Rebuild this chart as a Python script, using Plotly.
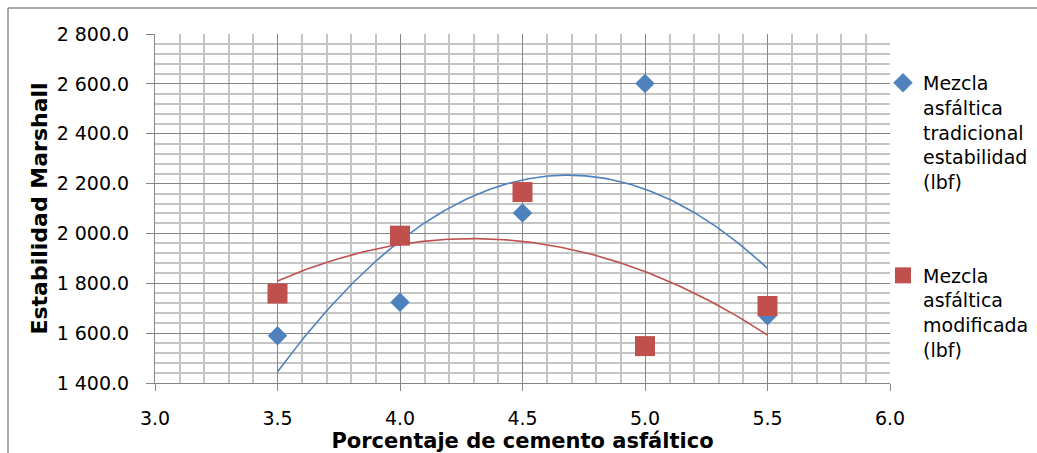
import numpy as np
import plotly.graph_objects as go

# Asphalt content (%) and Marshall stability (lbf) per mix
asphalt_pct = [3.5, 4.0, 4.5, 5.0, 5.5]
stab_traditional = [1590, 1724, 2082, 2601, 1670]
stab_modified = [1759, 1991, 2166, 1548, 1709]

name_traditional = "Mezcla<br>asfáltica<br>tradicional<br>estabilidad<br>(lbf)"
name_modified = "Mezcla<br>asfáltica<br>modificada<br>(lbf)"

BLUE = "#4F81BD"
RED = "#C0504D"
FONT = "DejaVu Sans, Verdana, sans-serif"

# Second-order polynomial trendlines over the measured range
xs = np.linspace(min(asphalt_pct), max(asphalt_pct), 200)
fit_trad = np.poly1d(np.polyfit(asphalt_pct, stab_traditional, 2))(xs)
fit_mod = np.poly1d(np.polyfit(asphalt_pct, stab_modified, 2))(xs)

fig = go.Figure()
fig.add_trace(go.Scatter(x=xs, y=fit_trad, mode="lines", line=dict(color=BLUE, width=1.6),
                         showlegend=False, hoverinfo="skip"))
fig.add_trace(go.Scatter(x=xs, y=fit_mod, mode="lines", line=dict(color=RED, width=1.6),
                         showlegend=False, hoverinfo="skip"))
fig.add_trace(go.Scatter(x=asphalt_pct, y=stab_traditional, mode="markers", name=name_traditional,
                         legendgroup="a",
                         marker=dict(symbol="diamond", size=15, color=BLUE)))
fig.add_trace(go.Scatter(x=asphalt_pct, y=stab_modified, mode="markers", name=name_modified,
                         legendgroup="b",
                         marker=dict(symbol="square", size=20, color=RED)))

W, H = 1037, 453
L, R, T, B = 155, 147, 34, 70
pw, ph = W - L - R, H - T - B


def px_x(p):
    return (p - L) / pw


def px_y(p):
    return (H - B - p) / ph


tick_font = dict(family=FONT, size=19, color="#000000")
major_grid = "#868686"
minor_grid = "#c4c4c4"

fig.update_layout(
    width=W, height=H,
    margin=dict(l=L, r=R, t=T, b=B, autoexpand=False),
    paper_bgcolor="white", plot_bgcolor="white",
    separators=". ",
    showlegend=True,
    legend=dict(
        x=px_x(883), y=px_y(64), xanchor="left", yanchor="top", valign="top",
        font=dict(family=FONT, size=19, color="#000000"),
        tracegroupgap=66, itemsizing="trace", bgcolor="rgba(0,0,0,0)",
    ),
    xaxis=dict(
        range=[3, 6], dtick=0.5, tick0=3, tickformat=".1f", automargin=False,
        showgrid=True, gridcolor=major_grid, gridwidth=1,
        minor=dict(dtick=0.1, showgrid=True, gridcolor=minor_grid, gridwidth=1.6),
        showline=True, linecolor=major_grid, linewidth=1,
        ticks="outside", ticklen=7, tickcolor=major_grid, ticklabelstandoff=11,
        tickfont=tick_font, zeroline=False,
        title=dict(text="<b>Porcentaje de cemento asfáltico</b>", standoff=3,
                   font=dict(family=FONT, size=21, color="#000000")),
    ),
    yaxis=dict(
        range=[1400, 2800], dtick=200, tick0=1400, tickformat=",.1f", automargin=False,
        showgrid=True, gridcolor=major_grid, gridwidth=1,
        minor=dict(dtick=40, showgrid=True, gridcolor=minor_grid, gridwidth=1.6),
        showline=True, linecolor=major_grid, linewidth=1,
        ticks="outside", ticklen=8, tickcolor=major_grid, ticklabelstandoff=13,
        tickfont=tick_font, zeroline=False,
        title=dict(text="<b>Estabilidad Marshall</b>", standoff=2,
                   font=dict(family=FONT, size=22, color="#000000")),
    ),
    shapes=[
        dict(type="line", xref="paper", yref="paper", x0=px_x(8), x1=px_x(W), y0=px_y(8), y1=px_y(8),
             line=dict(color="#8c8c8c", width=1.5)),
        dict(type="line", xref="paper", yref="paper", x0=px_x(8), x1=px_x(8), y0=px_y(8), y1=px_y(H),
             line=dict(color="#8c8c8c", width=1.5)),
    ],
)

fig.write_html("out.html")
